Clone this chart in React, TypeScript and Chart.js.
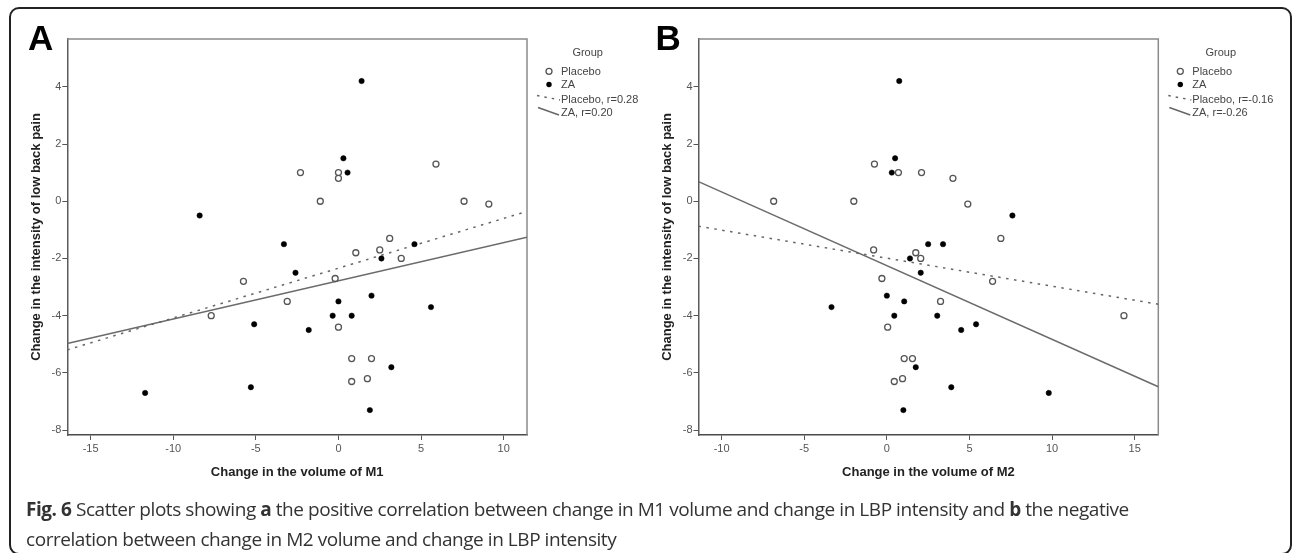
import React, { useEffect, useRef } from 'react';
import { Chart, registerables } from 'chart.js';

Chart.register(...registerables);

// ---------- data ----------
const xTicksA = [-15, -10, -5, 0, 5, 10];
const xTicksB = [-10, -5, 0, 5, 10, 15];
const yTicks = [-8, -6, -4, -2, 0, 2, 4];
const xRangeA = [-16.41, 11.41];
const xRangeB = [-11.4, 16.43];
const yRange = [-8.17, 5.67];

// Panel A: change in M1 volume vs change in LBP intensity
const placeboM1 = [-5.75, -2.3, -1.1, 0, 0, 5.9, 7.6, 9.1, 3.1, 1.05, 2.5, 3.8, -0.2, -3.1, -7.7, 0.0, 0.8, 2.0, 0.8, 1.75];
const placeboLbpA = [-2.8, 1.0, 0, 1.0, 0.8, 1.3, 0, -0.1, -1.3, -1.8, -1.7, -2.0, -2.7, -3.5, -4.0, -4.4, -5.5, -5.5, -6.3, -6.2];
const zaM1 = [-8.4, -3.3, -2.6, 1.4, 0.3, 0.55, 4.6, 2.6, 2.0, 0, -5.1, -1.8, -0.35, 0.8, -11.7, -5.3, 5.6, 3.2, 1.9];
const zaLbpA = [-0.5, -1.5, -2.5, 4.2, 1.5, 1.0, -1.5, -2.0, -3.3, -3.5, -4.3, -4.5, -4.0, -4.0, -6.7, -6.5, -3.7, -5.8, -7.3];

// Panel B: change in M2 volume vs change in LBP intensity
const placeboM2 = [-0.75, 0.7, 2.1, 4.0, -6.85, -2.0, 4.9, -0.8, 1.75, 2.05, -0.3, 6.9, 6.4, 3.25, 0.05, 1.05, 1.55, 0.45, 0.95, 14.35];
const placeboLbpB = [1.3, 1.0, 1.0, 0.8, 0, 0, -0.1, -1.7, -1.8, -2.0, -2.7, -1.3, -2.8, -3.5, -4.4, -5.5, -5.5, -6.3, -6.2, -4.0];
const zaM2 = [0.75, 0.5, 0.3, 2.5, 3.4, 1.4, 2.05, 0.0, 7.6, 1.05, -3.35, 0.45, 3.05, 4.5, 1.75, 3.9, 1.0, 5.4, 9.8];
const zaLbpB = [4.2, 1.5, 1.0, -1.5, -1.5, -2.0, -2.5, -3.3, -0.5, -3.5, -3.7, -4.0, -4.0, -4.5, -5.8, -6.5, -7.3, -4.3, -6.7];

// fit lines: [intercept, slope]
const fitPlaceboA = [-2.34, 0.174];
const fitZaA = [-2.78, 0.1335];
const fitPlaceboB = [-1.99, -0.098];
const fitZaB = [-2.25, -0.2576];

const legendA = ['Placebo', 'ZA', 'Placebo, r=0.28', 'ZA, r=0.20'];
const legendB = ['Placebo', 'ZA', 'Placebo, r=-0.16', 'ZA, r=-0.26'];

const FONT = '"Liberation Sans", Arial, Helvetica, sans-serif';

type Panel = {
  xTicks: number[];
  xRange: number[];
  px: number[]; py: number[];
  zx: number[]; zy: number[];
  fitP: number[]; fitZ: number[];
  legend: string[];
  xTitle: string;
  padLeft: number;
  padRight: number;
};

const pts = (xs: number[], ys: number[]) => xs.map((x, i) => ({ x, y: ys[i] }));
const fitLine = (f: number[], r: number[]) => r.map((x) => ({ x, y: f[0] + f[1] * x }));

const makeLegendPlugin = (labels: string[]) => ({
  id: 'groupLegend',
  afterDraw(chart: any) {
    const { ctx, chartArea: a } = chart;
    const mx = a.right + 22;
    const tx = a.right + 34;
    ctx.save();
    ctx.font = `11px ${FONT}`;
    const maxW = Math.max(...labels.map((l) => ctx.measureText(l).width));
    const gx = (a.right + 10 + tx + maxW) / 2;
    ctx.fillStyle = '#444';
    ctx.textBaseline = 'alphabetic';
    ctx.textAlign = 'center';
    ctx.fillText('Group', gx, 56);
    ctx.textAlign = 'left';
    const rows = [75, 88.3, 102.7, 116];
    labels.forEach((l, i) => ctx.fillText(l, tx, rows[i]));
    // placebo marker
    ctx.beginPath();
    ctx.arc(mx, 71.3, 3, 0, Math.PI * 2);
    ctx.fillStyle = '#fff';
    ctx.fill();
    ctx.lineWidth = 1.3;
    ctx.strokeStyle = '#555';
    ctx.stroke();
    // ZA marker
    ctx.beginPath();
    ctx.arc(mx, 84.5, 2.7, 0, Math.PI * 2);
    ctx.fillStyle = '#000';
    ctx.fill();
    // dotted line sample
    ctx.strokeStyle = '#666';
    ctx.lineWidth = 1.5;
    ctx.setLineDash([2.5, 5]);
    ctx.beginPath();
    ctx.moveTo(a.right + 10, 95.5);
    ctx.lineTo(a.right + 33, 100);
    ctx.stroke();
    ctx.setLineDash([]);
    ctx.beginPath();
    ctx.moveTo(a.right + 11, 107.5);
    ctx.lineTo(a.right + 32, 115);
    ctx.stroke();
    ctx.restore();
  },
});

const framePlugin = {
  id: 'plotFrame',
  beforeDatasetsDraw(chart: any) {
    const { ctx, chartArea: a } = chart;
    ctx.save();
    ctx.strokeStyle = '#8a8a8a';
    ctx.lineWidth = 1.5;
    ctx.beginPath();
    ctx.moveTo(a.left, a.top);
    ctx.lineTo(a.right, a.top);
    ctx.lineTo(a.right, a.bottom);
    ctx.stroke();
    ctx.restore();
  },
};

const makeConfig = (p: Panel): any => ({
  type: 'scatter',
  data: {
    datasets: [
      {
        label: 'Placebo',
        data: pts(p.px, p.py),
        pointRadius: 3,
        pointBorderWidth: 1.3,
        pointBackgroundColor: '#fff',
        pointBorderColor: '#555',
        showLine: false,
      },
      {
        label: 'ZA',
        data: pts(p.zx, p.zy),
        pointRadius: 2.7,
        pointBorderWidth: 0.5,
        pointBackgroundColor: '#000',
        pointBorderColor: '#000',
        showLine: false,
      },
      {
        label: 'Placebo fit',
        data: fitLine(p.fitP, p.xRange),
        showLine: true,
        borderColor: '#666',
        borderWidth: 1.5,
        borderDash: [2.5, 5.5],
        pointRadius: 0,
        fill: false,
      },
      {
        label: 'ZA fit',
        data: fitLine(p.fitZ, p.xRange),
        showLine: true,
        borderColor: '#6b6b6b',
        borderWidth: 1.5,
        pointRadius: 0,
        fill: false,
      },
    ],
  },
  options: {
    animation: false,
    responsive: false,
    maintainAspectRatio: false,
    events: [],
    layout: { padding: { left: p.padLeft, right: p.padRight, top: 39, bottom: 72.7 } },
    plugins: { legend: { display: false }, tooltip: { enabled: false } },
    scales: {
      x: {
        type: 'linear',
        position: 'bottom',
        min: p.xRange[0],
        max: p.xRange[1],
        afterBuildTicks: (s: any) => {
          s.ticks = p.xTicks.map((v) => ({ value: v }));
        },
        afterFit: (s: any) => {
          s.height = 45.3;
        },
        ticks: { font: { family: FONT, size: 11 }, color: '#555', padding: 2, callback: (v: any) => String(v) },
        grid: { drawOnChartArea: false, drawTicks: true, tickLength: 5, color: '#555', lineWidth: 1 },
        border: { display: true, color: '#4a4a4a', width: 1.5 },
        title: {
          display: true,
          text: p.xTitle,
          font: { family: FONT, size: 13, weight: 'bold' },
          color: '#222',
          padding: 0,
        },
      },
      y: {
        type: 'linear',
        position: 'left',
        min: yRange[0],
        max: yRange[1],
        afterBuildTicks: (s: any) => {
          s.ticks = yTicks.map((v) => ({ value: v }));
        },
        afterFit: (s: any) => {
          s.width = 39;
        },
        ticks: { font: { family: FONT, size: 11 }, color: '#555', padding: 1, callback: (v: any) => String(v) },
        grid: { drawOnChartArea: false, drawTicks: true, tickLength: 5, color: '#555', lineWidth: 1 },
        border: { display: true, color: '#5a5a5a', width: 1.5 },
        title: {
          display: true,
          text: 'Change in the intensity of low back pain',
          font: { family: FONT, size: 13, weight: 'bold' },
          color: '#222',
          padding: 0,
        },
      },
    },
  },
  plugins: [framePlugin, makeLegendPlugin(p.legend)],
});

const panelA: Panel = {
  xTicks: xTicksA, xRange: xRangeA,
  px: placeboM1, py: placeboLbpA, zx: zaM1, zy: zaLbpA,
  fitP: fitPlaceboA, fitZ: fitZaA, legend: legendA,
  xTitle: 'Change in the volume of M1',
  padLeft: 28.3, padRight: 1292 - 527,
};
const panelB: Panel = {
  xTicks: xTicksB, xRange: xRangeB,
  px: placeboM2, py: placeboLbpB, zx: zaM2, zy: zaLbpB,
  fitP: fitPlaceboB, fitZ: fitZaB, legend: legendB,
  xTitle: 'Change in the volume of M2',
  padLeft: 659.5, padRight: 1292 - 1158.3,
};

export default function App() {
  const refA = useRef<HTMLCanvasElement>(null);
  const refB = useRef<HTMLCanvasElement>(null);

  useEffect(() => {
    const ca = new Chart(refA.current as HTMLCanvasElement, makeConfig(panelA));
    const cb = new Chart(refB.current as HTMLCanvasElement, makeConfig(panelB));
    return () => {
      ca.destroy();
      cb.destroy();
    };
  }, []);

  const canvasStyle: React.CSSProperties = { position: 'absolute', left: 0, top: 0, width: 1292, height: 553, display: 'block' };
  const letterStyle: React.CSSProperties = {
    position: 'absolute', top: 20.4, fontFamily: FONT, fontWeight: 'bold', fontSize: 35, lineHeight: '35px', color: '#000',
  };

  return (
    <div style={{ position: 'fixed', left: 0, top: 0, width: 1292, height: 553, overflow: 'hidden', background: '#fff' }}>
      <div
        style={{
          position: 'absolute', left: 9, top: 7, width: 1283, height: 548, boxSizing: 'border-box',
          border: '2px solid #222', borderRadius: 10,
        }}
      />
      <canvas ref={refA} width={1292} height={553} style={canvasStyle} />
      <canvas ref={refB} width={1292} height={553} style={canvasStyle} />
      <div style={{ ...letterStyle, left: 28 }}>A</div>
      <div style={{ ...letterStyle, left: 655.5 }}>B</div>
      <div
        style={{
          position: 'absolute', left: 26, top: 493.5, fontFamily: '"Open Sans", "Noto Sans", sans-serif', fontSize: 19,
          letterSpacing: '-0.45px', lineHeight: '30px', color: '#333', whiteSpace: 'nowrap',
        }}
      >
        <b>Fig. 6</b> Scatter plots showing <b>a</b> the positive correlation between change in M1 volume and change in LBP intensity and <b>b</b> the negative
        <br />
        correlation between change in M2 volume and change in LBP intensity
      </div>
    </div>
  );
}
